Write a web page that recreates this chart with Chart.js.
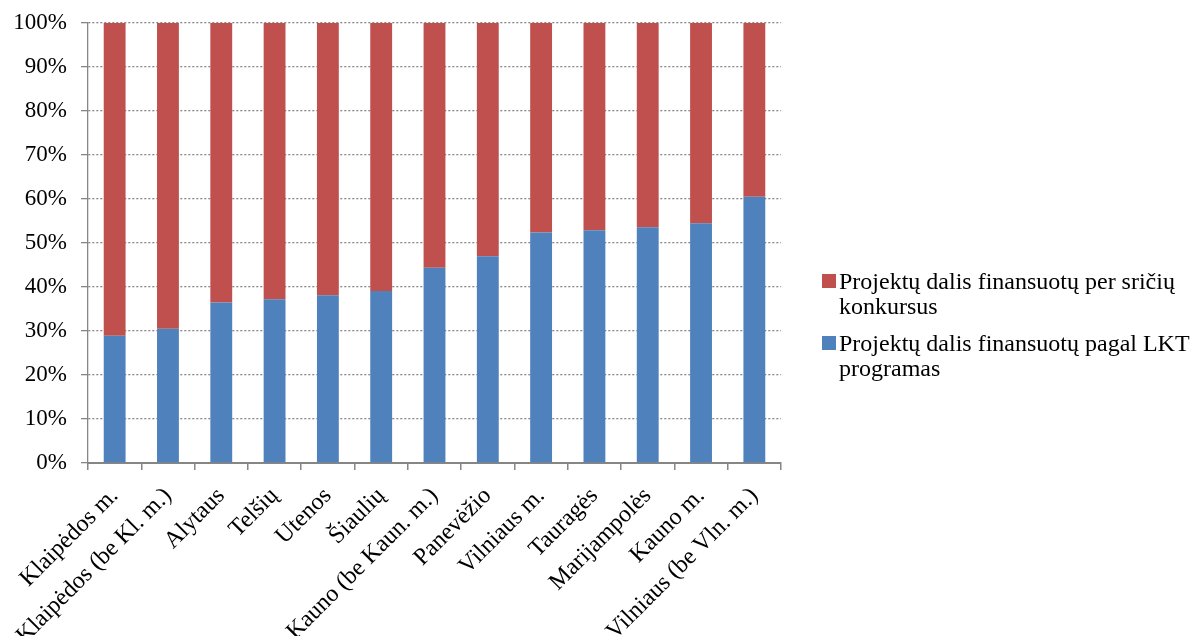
<!DOCTYPE html>
<html>
<head>
<meta charset="utf-8">
<script src="https://cdn.jsdelivr.net/npm/chart.js@4"></script>
<style>
html,body{margin:0;padding:0;background:#fff;}
#wrap{position:relative;width:1190px;height:636px;}
</style>
</head>
<body>
<div id="wrap"><canvas id="c" width="1190" height="636"></canvas></div>
<script>
const categories = ["Klaipėdos m.", "Klaipėdos (be Kl. m.)", "Alytaus", "Telšių", "Utenos", "Šiaulių", "Kauno (be Kaun. m.)", "Panevėžio", "Vilniaus m.", "Tauragės", "Marijampolės", "Kauno m.", "Vilniaus (be Vln. m.)"];
const lktShare = [28.9, 30.5, 36.5, 37.2, 38.1, 39.1, 44.4, 47.0, 52.4, 52.9, 53.6, 54.5, 60.5];
const konkursShare = [71.1, 69.5, 63.5, 62.8, 61.9, 60.9, 55.6, 53.0, 47.6, 47.1, 46.4, 45.5, 39.5];
const seriesNames = ["Projektų dalis finansuotų pagal LKT programas", "Projektų dalis finansuotų per sričių konkursus"];
const legendLines = [["Projektų dalis finansuotų pagal LKT", "programas"], ["Projektų dalis finansuotų per sričių", "konkursus"]];
const yTicks = [0, 10, 20, 30, 40, 50, 60, 70, 80, 90, 100];

const FONT = "'Liberation Serif', 'Times New Roman', serif";
const GRID = "#868686";

const legendPlugin = {
  id: 'sideLegend',
  afterDraw(chart) {
    const ctx = chart.ctx;
    ctx.save();
    ctx.font = "24px " + FONT;
    ctx.fillStyle = "#000";
    ctx.textBaseline = "alphabetic";
    const order = [1, 0];
    const baseY = [289, 351];
    order.forEach((di, k) => {
      const ds = chart.data.datasets[di];
      const y0 = baseY[k];
      ctx.fillStyle = ds.backgroundColor;
      ctx.fillRect(822, y0 - 15, 14, 14);
      ctx.fillStyle = "#000";
      legendLines[di].forEach((ln, i) => {
        ctx.fillText(ln, 839, y0 + i * 25);
      });
    });
    ctx.restore();
  }
};

new Chart(document.getElementById('c'), {
  type: 'bar',
  data: {
    labels: categories,
    datasets: [
      { label: seriesNames[0], data: lktShare, backgroundColor: '#4F81BD', stack: 's' },
      { label: seriesNames[1], data: konkursShare, backgroundColor: '#C0504D', stack: 's' }
    ]
  },
  options: {
    responsive: false,
    animation: false,
    devicePixelRatio: 1,
    layout: { padding: { left: 0, right: 409, top: 23, bottom: 0 } },
    datasets: { bar: { categoryPercentage: 1, barPercentage: 0.41 } },
    plugins: { legend: { display: false }, tooltip: { enabled: false } },
    scales: {
      x: {
        stacked: true,
        afterFit(s) { s.height = 173; },
        grid: { display: true, drawOnChartArea: false, drawTicks: true, tickLength: 7, color: GRID, lineWidth: 1.5, offset: true },
        border: { display: true, color: GRID, width: 2 },
        ticks: { color: '#000', font: { family: FONT, size: 24 }, minRotation: 45, maxRotation: 45, autoSkip: false, padding: 12 }
      },
      y: {
        stacked: true,
        min: 0, max: 100,
        afterFit(s) { s.width = 88; s.paddingTop = 0; s.paddingBottom = 0; },
        afterBuildTicks(s) { s.ticks = yTicks.map(v => ({ value: v })); },
        grid: { color: GRID, lineWidth: 1.3, tickLength: 7, drawTicks: true },
        border: { display: true, color: GRID, width: 1.3, dash: [2, 2] },
        ticks: { color: '#000', font: { family: FONT, size: 23 }, padding: 14, callback: v => v + '%' }
      }
    }
  },
  plugins: [legendPlugin]
});
</script>
</body>
</html>
